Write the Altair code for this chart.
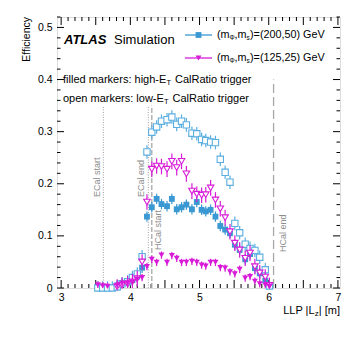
import altair as alt
import pandas as pd
import numpy as np

F = "Liberation Sans"
BLUE = "#3a98d2"
BLUE_OPEN = "#5aaee0"
MAG = "#d81bd8"

# bin centres of LLP |Lz| [m]
lz = [3.53, 3.60, 3.67, 3.74, 3.81, 3.88, 3.96, 4.03, 4.10, 4.17, 4.24, 4.31, 4.38, 4.45,
      4.53, 4.60, 4.67, 4.74, 4.81, 4.89, 4.96, 5.03, 5.09, 5.16, 5.23, 5.30, 5.37, 5.44,
      5.51, 5.58, 5.66, 5.73, 5.80, 5.87, 5.95, 6.01]

# (200,50) GeV, low-ET trigger (open squares)
eff_200_low = [0.0, 0.0, 0.0, 0.0, 0.002, 0.008, 0.012, 0.020, 0.027, 0.060, 0.261, 0.299,
               0.309, 0.320, 0.323, 0.328, 0.314, 0.320, 0.313, 0.297, 0.296, 0.285, 0.283,
               0.280, 0.279, 0.247, 0.222, 0.203, 0.124, 0.106, 0.084, 0.076, 0.072, 0.059,
               0.035, 0.004]
# (200,50) GeV, high-ET trigger (filled squares)
eff_200_high = [None, None, None, None, 0.005, 0.009, 0.012, 0.015, 0.022, 0.039, 0.137, 0.155,
                0.171, 0.161, 0.157, 0.171, 0.151, 0.155, 0.160, 0.151, 0.165, 0.150, 0.147,
                0.150, 0.137, 0.119, 0.112, 0.105, 0.083, 0.073, 0.055, 0.065, 0.038, 0.028,
                0.014, 0.004]
# (125,25) GeV, low-ET trigger (open triangles)
eff_125_low = [None, None, None, None, 0.002, 0.005, 0.008, 0.012, 0.018, 0.050, 0.165, 0.228,
               0.234, 0.233, 0.228, 0.243, 0.231, 0.243, 0.219, 0.186, 0.180, 0.178, 0.179,
               0.192, 0.169, 0.152, 0.135, 0.108, 0.086, 0.073, 0.057, 0.067, 0.041, 0.029,
               0.021, 0.005]
# (125,25) GeV, high-ET trigger (filled triangles)
eff_125_high = [0.006, 0.004, 0.003, None, 0.005, 0.009, 0.010, 0.012, 0.017, 0.020, 0.041,
                0.055, 0.049, 0.063, 0.049, 0.062, 0.057, 0.049, 0.049, 0.051, 0.049, 0.044,
                0.042, 0.049, 0.049, 0.039, 0.038, 0.031, 0.027, 0.036, 0.019, 0.022, 0.013,
                0.008, 0.006, 0.003]

err_200_low = 0.013
err_200_high = 0.010
err_125_low = 0.015
err_125_high = 0.007

# detector boundaries
det_names = ["ECal start", "ECal end", "HCal start", "HCal end"]
det_pos = [3.61, 4.26, 4.31, 6.07]
det_top = [0.35, 0.35, 0.35, 0.40]
det_dash = ["dot", "dot", "dash", "longdash"]

x_ticks = [3, 3.5, 4, 4.5, 5, 5.5, 6, 6.5, 7]
y_ticks = [0, 0.1, 0.2, 0.3, 0.4, 0.5]
x_minor = [round(v, 2) for v in np.arange(3.0, 7.01, 0.1) if round(v * 2, 3) % 1 != 0]
y_minor = [round(v, 3) for v in np.arange(0.0, 0.521, 0.02) if round(v * 10, 3) % 1 != 0]

W, H = 283, 271
xs = alt.Scale(domain=[2.94, 7.03], nice=False, zero=False)
ys = alt.Scale(domain=[0, 0.52], nice=False, zero=False)


def series(vals, err):
    rows = [dict(x=a, y=b, lo=max(b - err, 0), hi=b + err) for a, b in zip(lz, vals) if b is not None]
    return pd.DataFrame(rows)


def points(vals, err, color, shape, filled, size):
    df = series(vals, err)
    base = alt.Chart(df)
    bars = base.mark_rule(color=color, strokeWidth=1.2).encode(
        x=alt.X("x:Q", scale=xs), y=alt.Y("lo:Q", scale=ys), y2="hi:Q")
    if filled:
        pm = base.mark_point(shape=shape, filled=True, size=size, color=color, opacity=1)
    else:
        pm = base.mark_point(shape=shape, filled=True, size=size, fill="white",
                             stroke=color, strokeWidth=1.1, opacity=1)
    pts = pm.encode(x=alt.X("x:Q", scale=xs), y=alt.Y("y:Q", scale=ys))
    return [bars, pts]


def txt(s, x, y, size=11, align="left", baseline="middle", color="black", **kw):
    return alt.Chart(alt.Data(values=[{}])).mark_text(
        text=s, font=F, fontSize=size, align=align, baseline=baseline, color=color, **kw
    ).encode(x=alt.value(x), y=alt.value(y))


axis_x = alt.Axis(values=x_ticks, format="~g", ticks=False, domain=False, grid=False,
                  labelFont=F, labelFontSize=10.5, labelPadding=4, title=None, labelColor="black")
axis_y = alt.Axis(values=y_ticks, format="~g", ticks=False, domain=False, grid=False,
                  labelFont=F, labelFontSize=10.5, labelPadding=5, title=None, labelColor="black")

tickdf_xM = pd.DataFrame({"v": x_ticks})
tickdf_xm = pd.DataFrame({"v": x_minor})
tickdf_yM = pd.DataFrame({"v": y_ticks})
tickdf_ym = pd.DataFrame({"v": y_minor})

layers = []
layers.append(alt.Chart(tickdf_xM).mark_rule(color="black", strokeWidth=1).encode(
    x=alt.X("v:Q", scale=xs, axis=axis_x), y=alt.value(H), y2=alt.value(H - 8)))
layers.append(alt.Chart(tickdf_xM).mark_rule(color="black", strokeWidth=1).encode(
    x=alt.X("v:Q", scale=xs), y=alt.value(0), y2=alt.value(8)))
layers.append(alt.Chart(tickdf_xm).mark_rule(color="black", strokeWidth=1).encode(
    x=alt.X("v:Q", scale=xs), y=alt.value(H), y2=alt.value(H - 4)))
layers.append(alt.Chart(tickdf_xm).mark_rule(color="black", strokeWidth=1).encode(
    x=alt.X("v:Q", scale=xs), y=alt.value(0), y2=alt.value(4)))
layers.append(alt.Chart(tickdf_yM).mark_rule(color="black", strokeWidth=1).encode(
    y=alt.Y("v:Q", scale=ys, axis=axis_y), x=alt.value(0), x2=alt.value(7)))
layers.append(alt.Chart(tickdf_yM).mark_rule(color="black", strokeWidth=1).encode(
    y=alt.Y("v:Q", scale=ys), x=alt.value(W), x2=alt.value(W - 7)))
layers.append(alt.Chart(tickdf_ym).mark_rule(color="black", strokeWidth=1).encode(
    y=alt.Y("v:Q", scale=ys), x=alt.value(0), x2=alt.value(3.5)))
layers.append(alt.Chart(tickdf_ym).mark_rule(color="black", strokeWidth=1).encode(
    y=alt.Y("v:Q", scale=ys), x=alt.value(W), x2=alt.value(W - 3.5)))

# detector lines
dashes = {"dot": [1, 1.5], "dash": [5, 2], "longdash": [9, 4]}
for n, p, t, d in zip(det_names, det_pos, det_top, det_dash):
    layers.append(alt.Chart(pd.DataFrame({"x": [p], "y0": [0.0], "y1": [t]})).mark_rule(
        color="#a8a8a8", strokeWidth=1.3 if d != "dot" else 1.1, strokeDash=dashes[d]).encode(
        x=alt.X("x:Q", scale=xs), y=alt.Y("y0:Q", scale=ys), y2="y1:Q"))

# detector labels
lab_pos = {"ECal start": (40, 180), "ECal end": (84, 180), "HCal start": (101, 233), "HCal end": (226, 235)}
for n in det_names:
    lx, ly = lab_pos[n]
    layers.append(txt(n, lx, ly, size=9, angle=270, color="#8c8c8c"))

# data
layers += points(eff_200_high, err_200_high, BLUE, "square", True, 34)
layers += points(eff_200_low, err_200_low, BLUE_OPEN, "square", False, 40)
layers += points(eff_125_low, err_125_low, MAG, "triangle-down", False, 42)
layers += points(eff_125_high, err_125_high, MAG, "triangle-down", True, 36)

# legend
for yy, col, shp, num in [(18, BLUE, "square", "(200,50)"), (41, MAG, "triangle-down", "(125,25)")]:
    layers.append(alt.Chart(alt.Data(values=[{}])).mark_rule(color=col, strokeWidth=1.3).encode(
        x=alt.value(128), x2=alt.value(155), y=alt.value(yy)))
    layers.append(alt.Chart(alt.Data(values=[{}])).mark_point(
        shape=shp, filled=True, size=34, color=col, opacity=1).encode(x=alt.value(141.5), y=alt.value(yy)))
    layers.append(txt("(m", 160, yy, size=10.8))
    layers.append(txt("\u03a6", 172.6, yy + 3, size=6.5))
    layers.append(txt(",m", 177.6, yy, size=10.8))
    layers.append(txt("s", 189.6, yy + 3, size=6.5))
    layers.append(txt(")=" + num + " GeV", 193.0, yy, size=10.8))

# ATLAS label
layers.append(txt("ATLAS", 7, 23, size=13, fontWeight="bold", fontStyle="italic"))
layers.append(txt("Simulation", 57, 23, size=13))

# annotation lines
layers.append(txt("filled markers: high-E", 6, 63))
layers.append(txt("T", 109.5, 66, size=7.5))
layers.append(txt("CalRatio trigger", 118, 63))
layers.append(txt("open markers: low-E", 6, 82))
layers.append(txt("T", 107, 85, size=7.5))
layers.append(txt("CalRatio trigger", 115.5, 82))

# axis titles
layers.append(txt("| [m]", W, 294, size=11, align="right"))
layers.append(txt("z", W - 21.2, 297, size=8, align="right"))
layers.append(txt("LLP |L", W - 25.4, 294, size=11, align="right"))
layers.append(txt("Efficiency", -30, 0, size=10.5, align="right", angle=270))

chart = alt.layer(*layers).properties(
    width=W, height=H,
    autosize=alt.AutoSizeParams(type="none"),
    padding={"left": 49, "top": 9, "right": 10, "bottom": 45},
).configure_view(stroke="black", strokeWidth=1).configure(background="white")

chart.save("out.html", embed_options={"renderer": "svg", "actions": False})
